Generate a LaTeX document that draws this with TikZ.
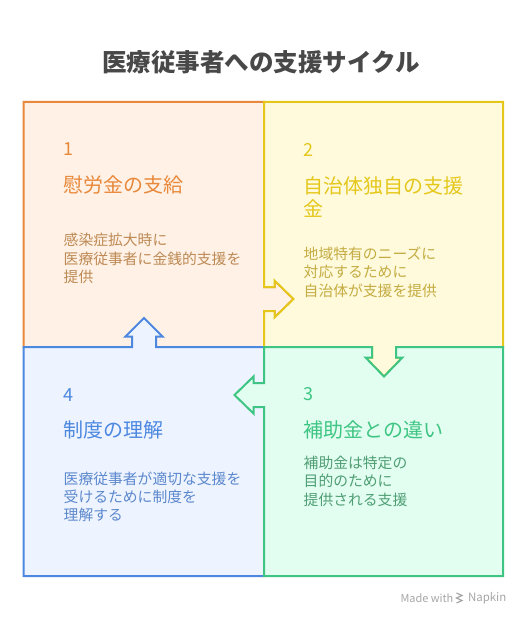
\documentclass[tikz,border=0pt]{standalone}
\usepackage{fontspec}
\setmainfont{Noto Sans CJK JP}
\usepackage{tikz}
\definecolor{orgline}{HTML}{E8883A}
\definecolor{orgfill}{HTML}{FFF1E5}
\definecolor{orgtext}{HTML}{BD8A55}
\definecolor{yelline}{HTML}{E5C71C}
\definecolor{yelfill}{HTML}{FFFADC}
\definecolor{yeltext}{HTML}{C4AC42}
\definecolor{grnline}{HTML}{3EC583}
\definecolor{grnfill}{HTML}{E2FEF0}
\definecolor{grntext}{HTML}{4F9E74}
\definecolor{bluline}{HTML}{4C88E0}
\definecolor{blufill}{HTML}{EDF3FF}
\definecolor{blutext}{HTML}{5C88CC}
\definecolor{titletext}{HTML}{484848}
\definecolor{marktext}{HTML}{A6A6A6}
\tikzset{every picture/.style={line width=1.5pt}}
\tikzset{
  numtxt/.style={anchor=west,inner sep=0pt,font=\fontsize{13.5}{15}\selectfont},
  headtxt/.style={anchor=west,inner sep=0pt,align=left,font=\fontsize{15}{17.25}\selectfont},
  bodytxt/.style={anchor=west,inner sep=0pt,align=left,font=\fontsize{11.1}{13.7}\selectfont},
  boxline/.style={line join=miter}
}

\begin{document}
\begin{tikzpicture}[x=0.75pt,y=0.75pt,yscale=-1,xscale=1]
		\useasboundingbox (0,0) rectangle (528,624);
		
		%Shape: Box 1 with arrow to box 2
		\draw [boxline, draw=orgline, fill=orgfill] (23.5,102) -- (264,102) -- (264,287) -- (274.5,287) -- (274.5,280.5) -- (293.5,299) -- (274.5,317.5) -- (274.5,311) -- (264,311) -- (264,347) -- (23.5,347) -- cycle ;
		
		%Shape: Box 4 with arrow to box 1
		\draw [boxline, draw=bluline, fill=blufill] (23.5,347) -- (132,347) -- (132,336.5) -- (125.5,336.5) -- (144,318) -- (162.5,336.5) -- (156,336.5) -- (156,347) -- (264,347) -- (264,576) -- (23.5,576) -- cycle ;
		
		%Shape: Box 2 with arrow to box 3
		\draw [boxline, draw=yelline, fill=yelfill] (264,102) -- (503,102) -- (503,347) -- (396,347) -- (396,357.5) -- (402.5,357.5) -- (384,376.5) -- (365.5,357.5) -- (372,357.5) -- (372,347) -- (264,347) -- (264,311) -- (274.5,311) -- (274.5,317.5) -- (293.5,299) -- (274.5,280.5) -- (274.5,287) -- (264,287) -- cycle ;
		
		%Shape: Box 3 with arrow to box 4
		\draw [boxline, draw=grnline, fill=grnfill] (264,347) -- (372,347) -- (372,357.5) -- (365.5,357.5) -- (384,376.5) -- (402.5,357.5) -- (396,357.5) -- (396,347) -- (503,347) -- (503,576) -- (264,576) -- (264,407) -- (253.5,407) -- (253.5,413.5) -- (234.5,395) -- (253.5,376.5) -- (253.5,383) -- (264,383) -- cycle ;
		
		% Text Node
		\draw (261,62.5) node (title) [inner sep=0pt, text=titletext, font=\fontsize{18.4}{22}\selectfont\bfseries] {医療従事者への支援サイクル};
		
		% Text Node
		\draw (62.7,149) node (num1) [numtxt, text=orgline] {1};
		% Text Node
		\draw (62.7,184.7) node (head1) [headtxt, text=orgline] {慰労金の支給};
		% Text Node
		\draw (62.7,258.5) node (body1) [bodytxt, text=orgtext] {感染症拡大時に\\医療従事者に金銭的支援を\\提供};
		
		% Text Node
		\draw (302.7,149.5) node (num2) [numtxt, text=yelline] {2};
		% Text Node
		\draw (302.7,196.6) node (head2) [headtxt, text=yelline] {自治体独自の支援\\金};
		% Text Node
		\draw (302.7,272.2) node (body2) [bodytxt, text=yeltext] {地域特有のニーズに\\対応するために\\自治体が支援を提供};
		
		% Text Node
		\draw (302.7,394.5) node (num3) [numtxt, text=grnline] {3};
		% Text Node
		\draw (302.7,430) node (head3) [headtxt, text=grnline] {補助金との違い};
		% Text Node
		\draw (302.7,481.3) node (body3) [bodytxt, text=grntext] {補助金は特定の\\目的のために\\提供される支援};
		
		% Text Node
		\draw (62.7,395.5) node (num4) [numtxt, text=bluline] {4};
		% Text Node
		\draw (62.7,430) node (head4) [headtxt, text=bluline] {制度の理解};
		% Text Node
		\draw (62.7,496.7) node (body4) [bodytxt, text=blutext] {医療従事者が適切な支援を\\受けるために制度を\\理解する};
		
		% Text Node
		\draw (399.5,598.5) node (made) [anchor=west, inner sep=0pt, text=marktext, font=\fontsize{8.2}{10}\selectfont] {Made with};
		%Shape: logo
		\draw [marktext, line width=0.9pt] (456.5,593) -- (462,595.5) -- (456.5,598) -- (462,600.5) -- (456.5,603) ;
		% Text Node
		\draw (467,598.5) node (napkin) [anchor=west, inner sep=0pt, text=marktext, font=\fontsize{8.6}{10}\selectfont] {Napkin};
		
		\end{tikzpicture}
\end{document}
